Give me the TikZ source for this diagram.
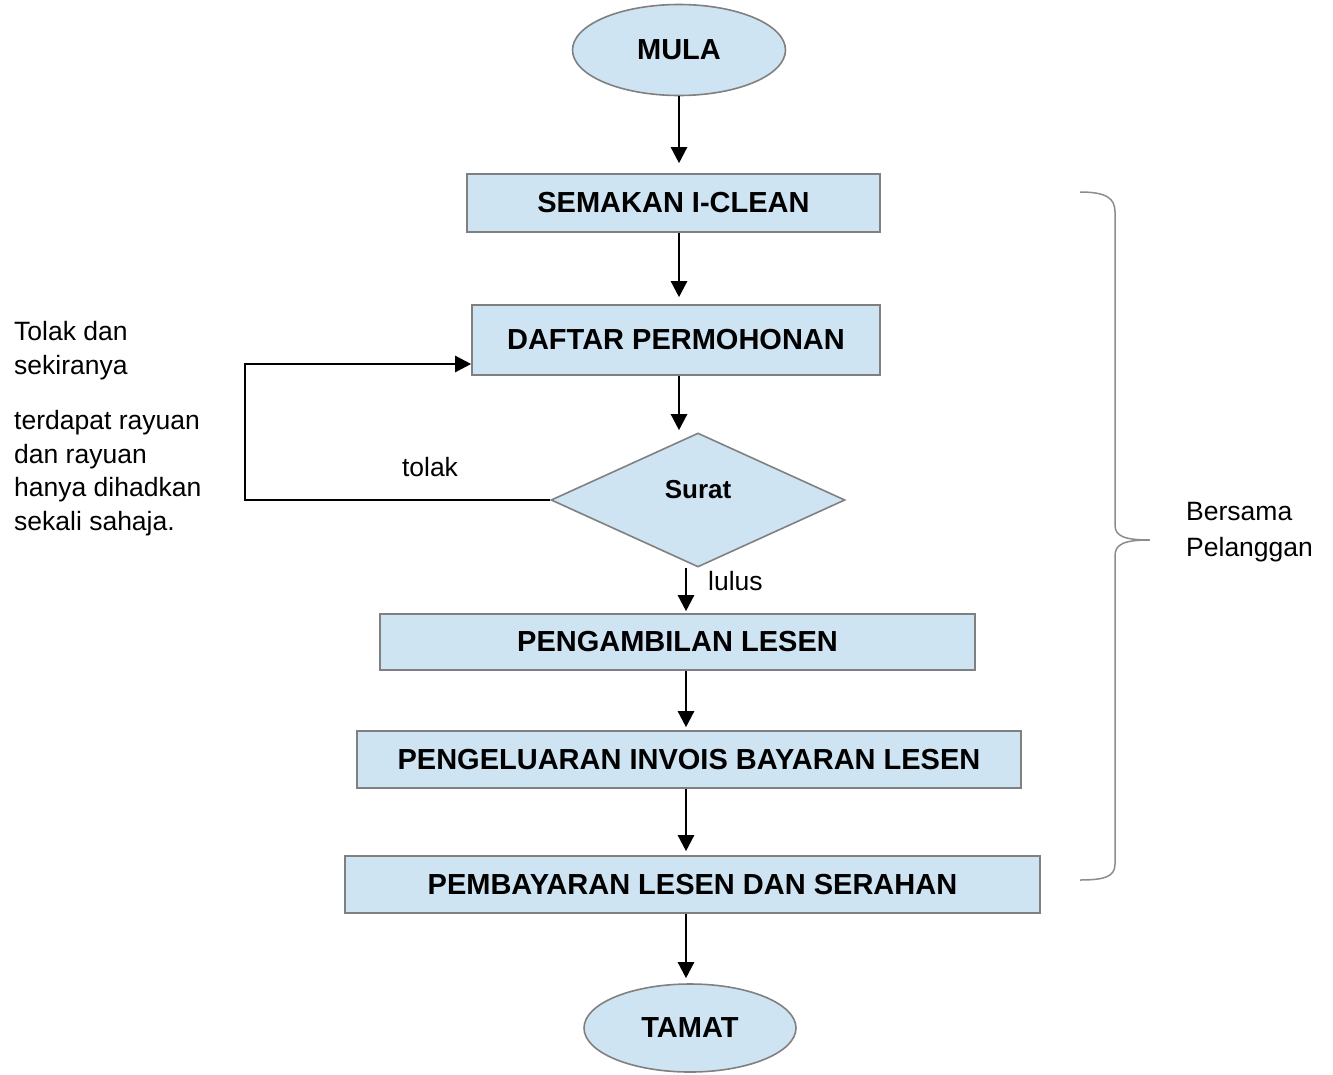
\documentclass[tikz,border=0pt]{standalone}
\usepackage{fontspec}
\setmainfont{Liberation Sans}
\usetikzlibrary{shapes.geometric,arrows.meta,calc}
\definecolor{boxfill}{HTML}{CFE4F3}
\definecolor{boxline}{HTML}{808080}
\definecolor{bracecol}{HTML}{8C8C8C}
\begin{document}
\begin{tikzpicture}[x=1pt,y=-1pt,
 procbox/.style={draw=boxline,line width=1.6pt,fill=boxfill,inner sep=0pt,font=\fontsize{29}{34}\selectfont\bfseries},
 term/.style={ellipse,draw=boxline,line width=1.6pt,fill=boxfill,inner sep=0pt,font=\fontsize{29}{34}\selectfont\bfseries},
 decision/.style={diamond,draw=boxline,line width=1.6pt,fill=boxfill,inner sep=0pt,font=\fontsize{26}{30}\selectfont\bfseries},
 flow/.style={line width=2.4pt,-{Triangle[length=16pt,width=16pt]}},
 plain/.style={inner sep=0pt,font=\fontsize{26.5}{30}\selectfont},
 bracestyle/.style={draw=bracecol,line width=1.5pt},
]
\useasboundingbox (0,0) rectangle (1333,1074);

\node[term,minimum width=213pt,minimum height=91pt] (mula) at (679,50) {MULA};
\node[procbox,minimum width=413pt,minimum height=58pt] (semakan) at (673.5,203) {SEMAKAN I-CLEAN};
\node[procbox,minimum width=408pt,minimum height=70pt] (daftar) at (676,340) {DAFTAR PERMOHONAN};
\node[decision,minimum width=294pt,minimum height=134pt] (surat) at (698,500) {\raisebox{22pt}{Surat}};
\node[procbox,minimum width=595pt,minimum height=56pt] (ambil) at (677.5,642) {PENGAMBILAN LESEN};
\node[procbox,minimum width=664pt,minimum height=57pt] (invois) at (689,759.5) {PENGELUARAN INVOIS BAYARAN LESEN};
\node[procbox,minimum width=695pt,minimum height=57pt] (bayar) at (692.5,884.5) {PEMBAYARAN LESEN DAN SERAHAN};
\node[term,minimum width=212pt,minimum height=88pt] (tamat) at (690,1028) {TAMAT};

\coordinate (c1) at (679,0);
\coordinate (c2) at (686,0);
\coordinate (lx) at (245,0);

\draw[flow,shorten >=10pt] (mula.south) -- (mula.south |- semakan.north);
\draw[flow,shorten >=7pt] (semakan.south -| c1) -- (daftar.north -| c1);
\draw[flow,shorten >=2pt] (daftar.south -| c1) -- (surat.north -| c1);
\draw[flow,shorten >=2pt] (surat.south -| c2) -- (ambil.north -| c2);
\draw[flow,shorten >=3pt] (ambil.south -| c2) -- (invois.north -| c2);
\draw[flow,shorten >=4pt] (invois.south -| c2) -- (bayar.north -| c2);
\draw[flow,shorten >=5pt] (bayar.south -| c2) -- (tamat.north -| c2);
\draw[flow] (surat.west) -- (surat.west -| lx) |- ($(daftar.west)+(0,24)$);

\node[plain,anchor=base] (tolak) at (430,476) {tolak};
\node[plain,anchor=base west] (lulus) at (708,590) {lulus};

\node[plain,anchor=base west] (n1) at (14,340) {Tolak dan};
\node[plain,anchor=base west] (n2) at (14,374) {sekiranya};
\node[plain,anchor=base west] (n3) at (14,429) {terdapat rayuan};
\node[plain,anchor=base west] (n4) at (14,463) {dan rayuan};
\node[plain,anchor=base west] (n5) at (14,496) {hanya dihadkan};
\node[plain,anchor=base west] (n6) at (14,530) {sekali sahaja.};

\draw[bracestyle] (1080,192) .. controls (1106,192) and (1115,198) .. (1115,212)
  -- (1115,525) .. controls (1115,536) and (1124,540) .. (1150,540)
  .. controls (1124,540) and (1115,544) .. (1115,556)
  -- (1115,864) .. controls (1115,876) and (1106,880) .. (1080,880);

\node[plain,anchor=base west] (b1) at (1186,520) {Bersama};
\node[plain,anchor=base west] (b2) at (1186,556) {Pelanggan};
\end{tikzpicture}
\end{document}
